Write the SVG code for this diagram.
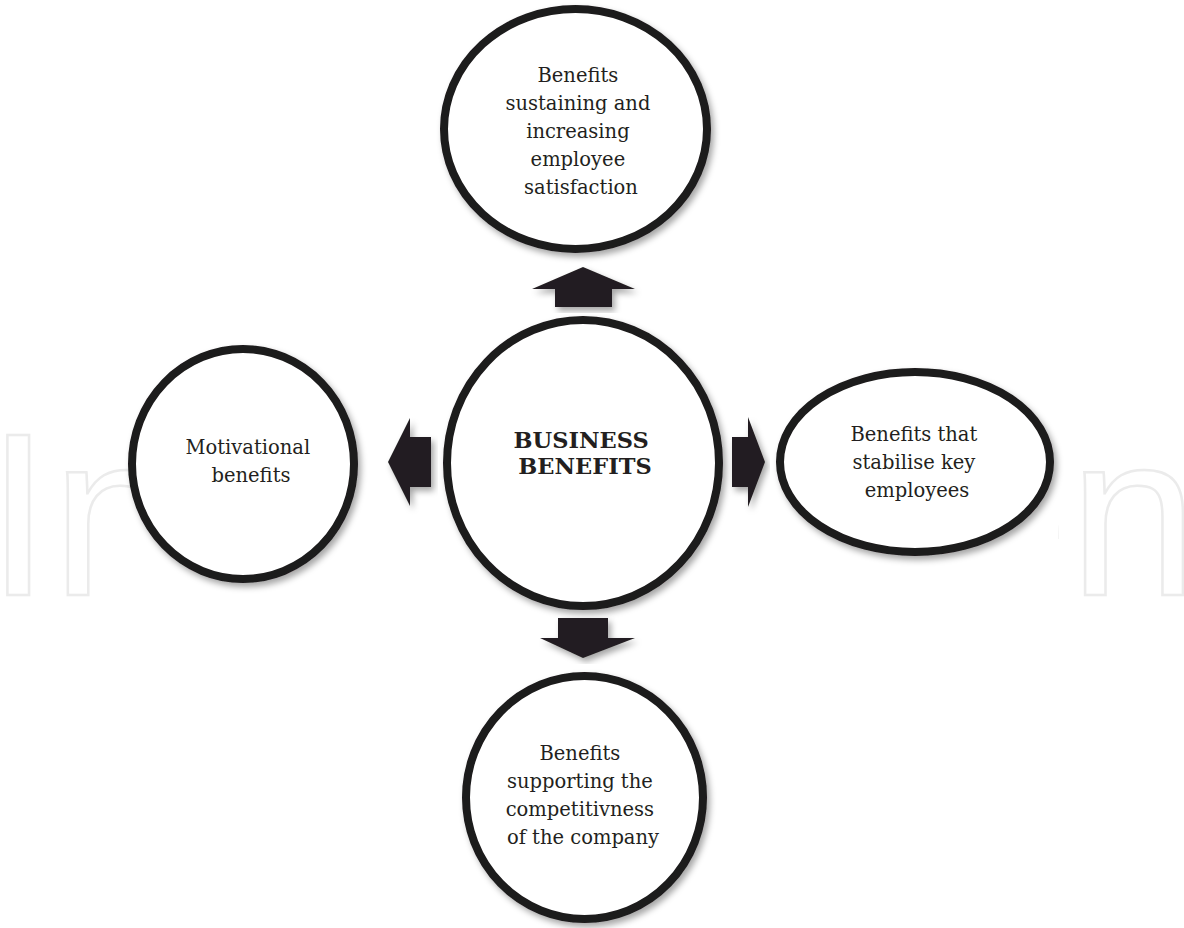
<svg xmlns="http://www.w3.org/2000/svg" width="1184" height="928" viewBox="0 0 1184 928">
  <defs>
    <filter id="shadow" x="-10%" y="-10%" width="125%" height="125%">
      <feDropShadow dx="3" dy="4" stdDeviation="3" flood-color="#000" flood-opacity="0.35"/>
    </filter>
    <clipPath id="wm-clip">
      <rect x="0" y="400" width="130" height="220"/>
      <rect x="1058" y="400" width="126" height="220"/>
    </clipPath>
    <style>
      .circle { fill: #ffffff; stroke: #1c1a1b; stroke-width: 8; filter: url(#shadow); }
      .arrow { fill: #231f20; filter: url(#shadow); }
      .label { font-family: "DejaVu Serif", "Liberation Serif", serif; font-size: 19.5px; fill: #231f20; text-anchor: middle; }
      .title { font-family: "DejaVu Serif", "Liberation Serif", serif; font-size: 22.5px; font-weight: bold; fill: #231f20; text-anchor: middle; }
      .watermark { font-family: "Liberation Sans", "DejaVu Sans", sans-serif; font-size: 232px; fill: none; stroke: #ebebeb; stroke-width: 2.5; }
    </style>
  </defs>
  <rect width="1184" height="928" fill="#ffffff"/>
  <g clip-path="url(#wm-clip)">
    <text class="watermark" x="-14" y="595" textLength="1212" lengthAdjust="spacing">IntechOpen</text>
  </g>

  <g id="connectors">
    <polygon class="arrow" points="583,267 635,289 612,289 612,307 555,307 555,289 532,289"/>
    <polygon class="arrow" points="388,462 410,418 410,437 431,437 431,487 410,487 410,506"/>
    <polygon class="arrow" points="765,462 748,417 748,437 732,437 732,487 748,487 748,507"/>
    <polygon class="arrow" points="583,658 635,638 608,638 608,618 558,618 558,638 540,638"/>
  </g>

  <g id="node-top">
    <ellipse class="circle" cx="575.5" cy="129" rx="131.5" ry="120"/>
    <text class="label">
      <tspan x="581" y="82">Benefits</tspan>
      <tspan x="581" y="110">sustaining and</tspan>
      <tspan x="581" y="138">increasing</tspan>
      <tspan x="581" y="166">employee</tspan>
      <tspan x="581" y="194">satisfaction</tspan>
    </text>
  </g>

  <g id="node-center">
    <ellipse class="circle" cx="583" cy="463" rx="136" ry="143"/>
    <text class="title">
      <tspan x="585" y="448">BUSINESS</tspan>
      <tspan x="585" y="474">BENEFITS</tspan>
    </text>
  </g>

  <g id="node-left">
    <ellipse class="circle" cx="243" cy="464" rx="111" ry="115"/>
    <text class="label">
      <tspan x="251" y="454">Motivational</tspan>
      <tspan x="251" y="482">benefits</tspan>
    </text>
  </g>

  <g id="node-right">
    <ellipse class="circle" cx="915" cy="462" rx="135" ry="90"/>
    <text class="label">
      <tspan x="917" y="441">Benefits that</tspan>
      <tspan x="917" y="469">stabilise key</tspan>
      <tspan x="917" y="497">employees</tspan>
    </text>
  </g>

  <g id="node-bottom">
    <ellipse class="circle" cx="584.5" cy="797.5" rx="118.5" ry="121.5"/>
    <text class="label">
      <tspan x="583" y="760">Benefits</tspan>
      <tspan x="583" y="788">supporting the</tspan>
      <tspan x="583" y="816">competitivness</tspan>
      <tspan x="583" y="844">of the company</tspan>
    </text>
  </g>
</svg>
